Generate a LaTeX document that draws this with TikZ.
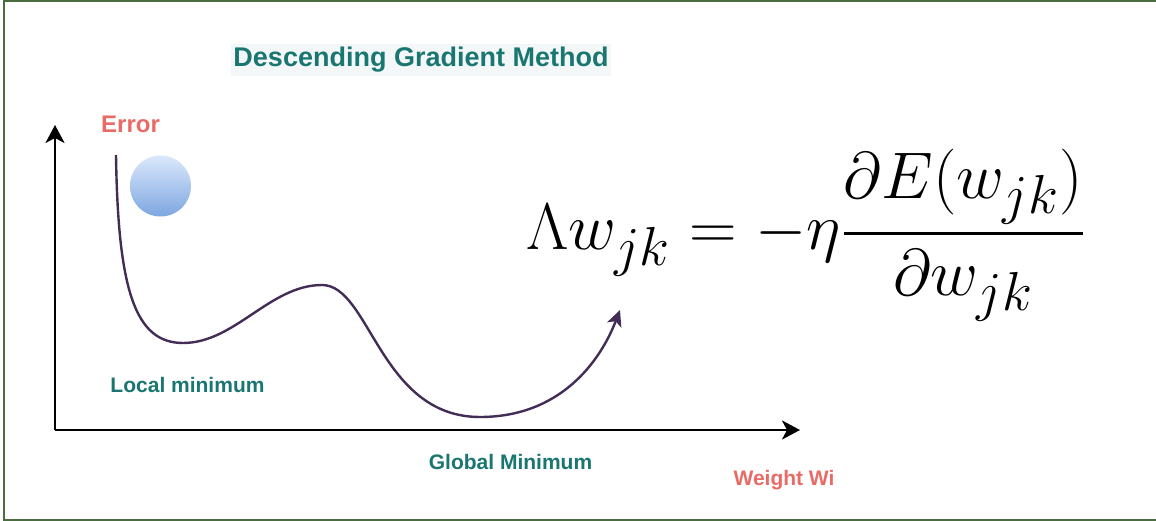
\documentclass[tikz,border=0pt]{standalone}
\usepackage{amsmath}
\usepackage[no-math]{fontspec}
\usetikzlibrary{arrows.meta}
\newfontfamily\labelfont{Liberation Sans}
\definecolor{tealtext}{HTML}{1A7671}
\definecolor{salmon}{HTML}{EA6B66}
\definecolor{curvepurple}{HTML}{432D57}
\definecolor{framegreen}{HTML}{4B6B41}
\definecolor{balltop}{HTML}{DAE8FC}
\definecolor{ballbottom}{HTML}{7EA6E0}
\definecolor{titleback}{HTML}{F4F7F8}
\tikzset{
  axis/.style={line width=2.6pt, -{Stealth[length=18pt,width=19pt,inset=5pt]}},
  tealbold/.style={text=tealtext, font=\labelfont\bfseries\fontsize{21}{25}\selectfont, inner sep=0pt},
  salmonbold/.style={text=salmon, font=\labelfont\bfseries\fontsize{21}{25}\selectfont, inner sep=0pt}
}
\begin{document}
\begin{tikzpicture}[x=1pt, y=-1pt]
    \useasboundingbox (0,0) rectangle (1156,521);
    % Frame
    \draw[framegreen, line width=2pt] (4,1.5) rectangle (1160,519.5);

    % Title
    \node[tealbold, font=\labelfont\bfseries\fontsize{27}{32}\selectfont, fill=titleback, inner xsep=2pt, inner ysep=3pt, anchor=base] (title) at (421,67) {Descending Gradient Method};

    % Axes
    \coordinate (origin) at (55,430);
    \coordinate (ytop) at (55,125);
    \coordinate (xend) at (800,430);
    \draw[axis] (origin) -- (ytop);
    \draw[axis] (origin) -- (xend);
    \node[salmonbold, font=\labelfont\bfseries\fontsize{24}{28}\selectfont, anchor=base] (error) at (130.5,133) {Error};
    \node[salmonbold, anchor=base] (weight) at (784,485) {Weight Wi};

    % Ball
    \shade[top color=balltop, bottom color=ballbottom] (160.5,186) circle (30.5);

    % Error curve
    \coordinate (start) at (116,155);
    \coordinate (localmin) at (183,343);
    \coordinate (peak) at (322,285);
    \coordinate (globalmin) at (480,417);
    \coordinate (finish) at (620,310);
    \draw[curvepurple, line width=2.4pt, -{Stealth[length=16pt,width=15pt,inset=4pt]}]
        (start) .. controls (118,290) and (135,343) .. (localmin)
        .. controls (235,343) and (270,285) .. (peak)
        .. controls (370,285) and (380,417) .. (globalmin)
        .. controls (560,417) and (600,362) .. (finish);
    \node[tealbold, anchor=base] (localtext) at (187.5,392.5) {Local minimum};
    \node[tealbold, anchor=base] (globaltext) at (510.5,469.5) {Global Minimum};

    % Update rule
    \node[anchor=base west, inner sep=0pt, font=\fontsize{24.88}{30}\selectfont] (rule) at (526,250)
        {\scalebox{2.65}{$\displaystyle \Lambda w_{jk} = -\eta\frac{\partial E(w_{jk})}{\partial w_{jk}}$}};
\end{tikzpicture}
\end{document}
